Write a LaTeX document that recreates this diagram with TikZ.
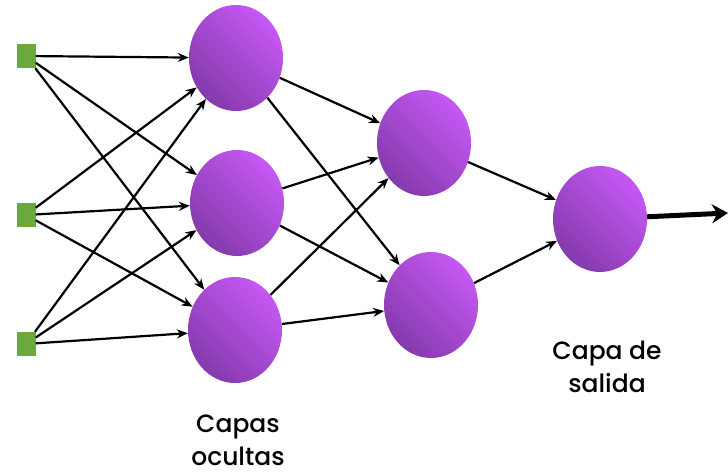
\documentclass[tikz,border=0pt]{standalone}
\usepackage{fontspec}
\setmainfont{Poppins Medium}
\usetikzlibrary{arrows.meta,shapes.geometric}
\definecolor{inputgreen}{RGB}{106,170,60}
\definecolor{neuronlight}{RGB}{198,88,244}
\definecolor{neurondark}{RGB}{132,58,172}

\begin{document}
\begin{tikzpicture}
[
	x=1pt,y=-1pt,
	inputpt/.style={rectangle,fill=inputgreen,inner sep=0pt,minimum width=19pt,minimum height=24pt},
	neuron/.style={ellipse,inner sep=0pt,minimum width=94pt,minimum height=106pt,
		shading=axis,top color=neuronlight,bottom color=neurondark,shading angle=-45},
	link/.style={-{Stealth[length=11pt,width=9pt]},line width=2.2pt},
	caption/.style={align=center,font=\fontsize{25}{33}\selectfont}
]
	\useasboundingbox (0,0) rectangle (728,476);

	% inputs
	\node[inputpt] at (26,56) (in1) {};
	\node[inputpt] at (26,215) (in2) {};
	\node[inputpt] at (26,344) (in3) {};

	% first hidden layer
	\node[neuron] at (236,58) (ha) {};
	\node[neuron] at (237,203) (hb) {};
	\node[neuron] at (235,330) (hc) {};

	% second hidden layer
	\node[neuron] at (424,143) (ka) {};
	\node[neuron] at (431,305) (kb) {};

	% output
	\node[neuron] at (600,219) (out) {};
	\coordinate (end) at (728,213);

	% connections
	\foreach \i in {in1,in2,in3} {
		\foreach \h in {ha,hb,hc} {
			\draw[link] (\i) -- (\h);
		}
	}
	\foreach \h in {ha,hb,hc} {
		\foreach \k in {ka,kb} {
			\draw[link] (\h) -- (\k);
		}
	}
	\draw[link] (ka) -- (out);
	\draw[link] (kb) -- (out);
	\draw[-{Stealth[length=16pt,width=19pt]},line width=5pt] (out) -- (end);

	% labels
	\node[caption] at (238,440) (hidlabel) {Capas\\ocultas};
	\node[caption] at (607,367) (outlabel) {Capa de\\salida};

\end{tikzpicture}
\end{document}
